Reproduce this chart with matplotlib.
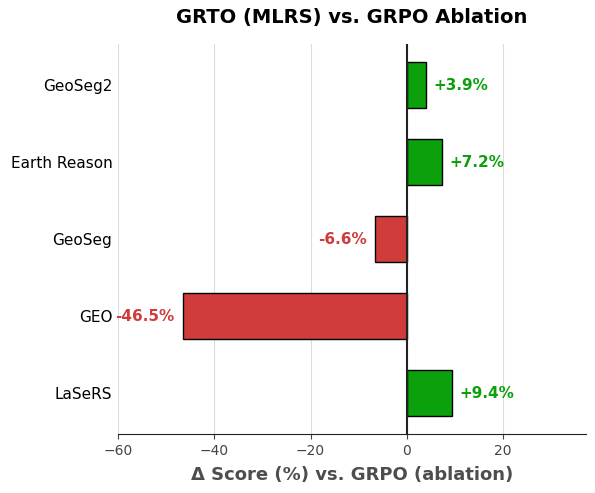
import matplotlib
matplotlib.use("Agg")
import matplotlib.pyplot as plt

categories = ["LaSeRS", "GEO", "GeoSeg", "Earth Reason", "GeoSeg2"]
deltas = [9.4, -46.5, -6.6, 7.2, 3.9]

green = "#0ca00c"
red = "#d03c3c"

fig, ax = plt.subplots(figsize=(5.95, 4.93), dpi=100)
colors = [green if d >= 0 else red for d in deltas]
ax.barh(range(len(categories)), deltas, height=0.6, color=colors,
        edgecolor="black", linewidth=1.0, zorder=3)
ax.axvline(0, color="#222222", linewidth=1.5, zorder=4)

for i, d in enumerate(deltas):
    if d >= 0:
        ax.text(d + 1.6, i - 0.01, f"+{d:.1f}%", va="center", ha="left",
                color=green, fontsize=11, fontweight="bold")
    else:
        ax.text(d - 1.8, i - 0.01, f"{d:.1f}%", va="center", ha="right",
                color=red, fontsize=11, fontweight="bold")

ax.set_yticks(range(len(categories)))
ax.set_yticklabels(categories, fontsize=11)
ax.tick_params(axis="y", length=0, pad=6)
ax.tick_params(axis="x", colors="#444444", labelsize=10, labelcolor="#444444")
ax.set_xlim(-60, 37.2)
ax.set_xticks([-60, -40, -20, 0, 20])
ax.grid(axis="x", color="#dcdcd6", linewidth=0.8, zorder=0)
ax.set_axisbelow(True)
for s in ["top", "right", "left"]:
    ax.spines[s].set_visible(False)
ax.spines["bottom"].set_color("#222222")
ax.set_xlabel("Δ Score (%) vs. GRPO (ablation)", fontsize=13, fontweight="bold",
              color="#4d4d4d", labelpad=6)
ax.set_title("GRTO (MLRS) vs. GRPO Ablation", fontsize=14, fontweight="bold", pad=15)

fig.subplots_adjust(left=0.198, right=0.985, top=0.911, bottom=0.12)
for lbl in ax.get_yticklabels():
    lbl.set_x(lbl.get_position()[0])
ax.tick_params(axis="y", pad=4)
fig.savefig("out.png", dpi=100)
